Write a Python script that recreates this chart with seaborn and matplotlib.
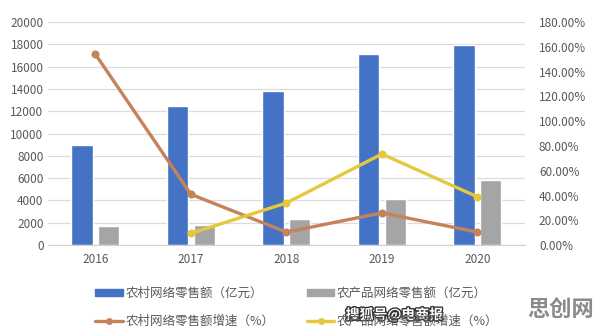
import numpy as np
import pandas as pd
import matplotlib
matplotlib.use("Agg")
import matplotlib.pyplot as plt
import matplotlib.patheffects as pe
from matplotlib.ticker import PercentFormatter, MultipleLocator
from matplotlib.lines import Line2D
from matplotlib.patches import Patch
import seaborn as sns

years = ["2016", "2017", "2018", "2019", "2020"]
rural_sales = [9000, 12450, 13800, 17100, 17950]          # 农村网络零售额（亿元）
agri_sales = [1700, 1800, 2350, 4150, 5800]               # 农产品网络零售额（亿元）
rural_growth = [1.54, 0.41, 0.105, 0.26, 0.105]           # 农村网络零售额增速
agri_growth = [np.nan, 0.095, 0.34, 0.735, 0.39]          # 农产品网络零售额增速

names = ["农村网络零售额（亿元）", "农产品网络零售额（亿元）",
         "农村网络零售额增速（%）", "农产品网络零售额增速（%）"]
c_blue, c_gray, c_orange, c_yellow = "#4472C4", "#A5A5A5", "#C4835A", "#E6C83C"

sns.set_style("white")
plt.rcParams["font.family"] = ["Noto Sans CJK SC", "DejaVu Sans"]

bars = pd.DataFrame({
    "year": years * 2,
    "value": rural_sales + agri_sales,
    "series": [names[0]] * 5 + [names[1]] * 5,
})
rates = pd.DataFrame({
    "year": years * 2,
    "rate": rural_growth + agri_growth,
    "series": [names[2]] * 5 + [names[3]] * 5,
})

fig = plt.figure(figsize=(5.96, 3.29), dpi=100)
ax = fig.add_axes([0.08, 0.255, 0.801, 0.678])

sns.barplot(data=bars, x="year", y="value", hue="series", order=years,
            palette=[c_blue, c_gray], width=0.56, gap=0.21, saturation=1,
            legend=False, ax=ax)
ax.set_ylim(0, 20000)
ax.yaxis.set_major_locator(MultipleLocator(2000))
ax.set_xlim(-0.5, 4.5)
ax.grid(axis="y", color="#dcdcdc", linewidth=0.9)
ax.set_axisbelow(True)
for s in ["top", "right", "left"]:
    ax.spines[s].set_visible(False)
ax.spines["bottom"].set_color("#d0d0d0")
ax.set_xlabel("")
ax.set_ylabel("")
ax.tick_params(axis="both", length=0, labelsize=8.5, labelcolor="#595959", pad=6)
ax.tick_params(axis="y", pad=3)

ax2 = ax.twinx()
sns.pointplot(data=rates, x="year", y="rate", hue="series", order=years,
              palette=[c_orange, c_yellow], errorbar=None, markers="o",
              markersize=4, linewidth=2.4, legend=False, ax=ax2)
ax2.set_ylim(0, 1.8)
ax2.yaxis.set_major_locator(MultipleLocator(0.2))
ax2.yaxis.set_major_formatter(PercentFormatter(1.0, decimals=2))
ax2.set_xlim(-0.5, 4.5)
for s in ["top", "right", "left", "bottom"]:
    ax2.spines[s].set_visible(False)
ax2.set_ylabel("")
ax2.tick_params(axis="y", length=0, labelsize=8.5, labelcolor="#595959", pad=10)

handles = [
    Patch(color=c_blue, label=names[0]),
    Line2D([], [], color=c_orange, lw=2.4, marker="o", ms=4, label=names[2]),
    Patch(color=c_gray, label=names[1]),
    Line2D([], [], color=c_yellow, lw=2.4, marker="o", ms=4, label=names[3]),
]
fig.legend(handles=handles, ncol=2, loc="center left", bbox_to_anchor=(0.16, 0.066),
           frameon=False, fontsize=9, labelcolor="#595959", handlelength=2.2,
           handleheight=0.45, handletextpad=0.2, columnspacing=2.6,
           labelspacing=1.2, borderpad=0, borderaxespad=0)

# watermark
fig.text(0.58, 0.03, "搜狐号@电商报", fontsize=10, color="white", fontweight="bold",
         path_effects=[pe.withStroke(linewidth=2, foreground="#333333")])
fig.text(0.885, 0.04, "思创网", fontsize=16, color="#8a8a8a", fontweight="bold")

fig.savefig("out.png", dpi=100)
